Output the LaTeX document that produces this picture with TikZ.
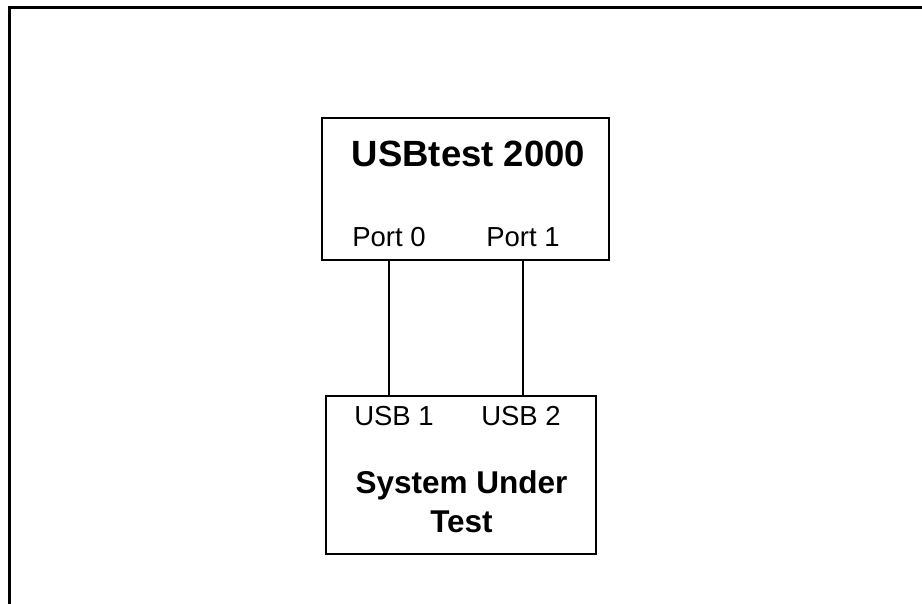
\documentclass[tikz,border=0pt]{standalone}
\usepackage{fontspec}
\setmainfont{Liberation Sans}
\usepackage{tikz}

\tikzset{
   unit/.style={draw, line width=2pt, minimum width=#1},
   title/.style={font=\fontsize{36.5}{42}\selectfont\bfseries, anchor=base},
   portlabel/.style={font=\fontsize{27.5}{30}\selectfont, anchor=base},
   cable/.style={line width=2pt}
}

\begin{document}
\begin{tikzpicture}[x=1pt, y=-1pt]
   \useasboundingbox (0,0) rectangle (922,604);
   \clip (0,0) rectangle (922,604);
   % frame
   \draw[line width=3pt] (9.5,700) -- (9.5,7.5) -- (940,7.5);

   % tester
   \node[unit=287pt, minimum height=142pt] (tester) at (465.5,189) {};
   \node[title] (testername) at (468.5,167) {USBtest 2000};
   \node[portlabel] (port0) at (389,247) {Port 0};
   \node[portlabel] (port1) at (523,247) {Port 1};

   % system under test
   \node[unit=270pt, minimum height=158pt] (sut) at (461,475) {};
   \node[portlabel] (usb1) at (394,425) {USB 1};
   \node[portlabel] (usb2) at (521,425) {USB 2};
   \node[title, font=\fontsize{31.5}{39}\selectfont\bfseries, align=center] (sutname) at (461.5,532) {System Under\\Test};

   % cables
   \draw[cable] (port0 |- tester.south) -- (port0 |- sut.north);
   \draw[cable] (port1 |- tester.south) -- (port1 |- sut.north);
\end{tikzpicture}
\end{document}
